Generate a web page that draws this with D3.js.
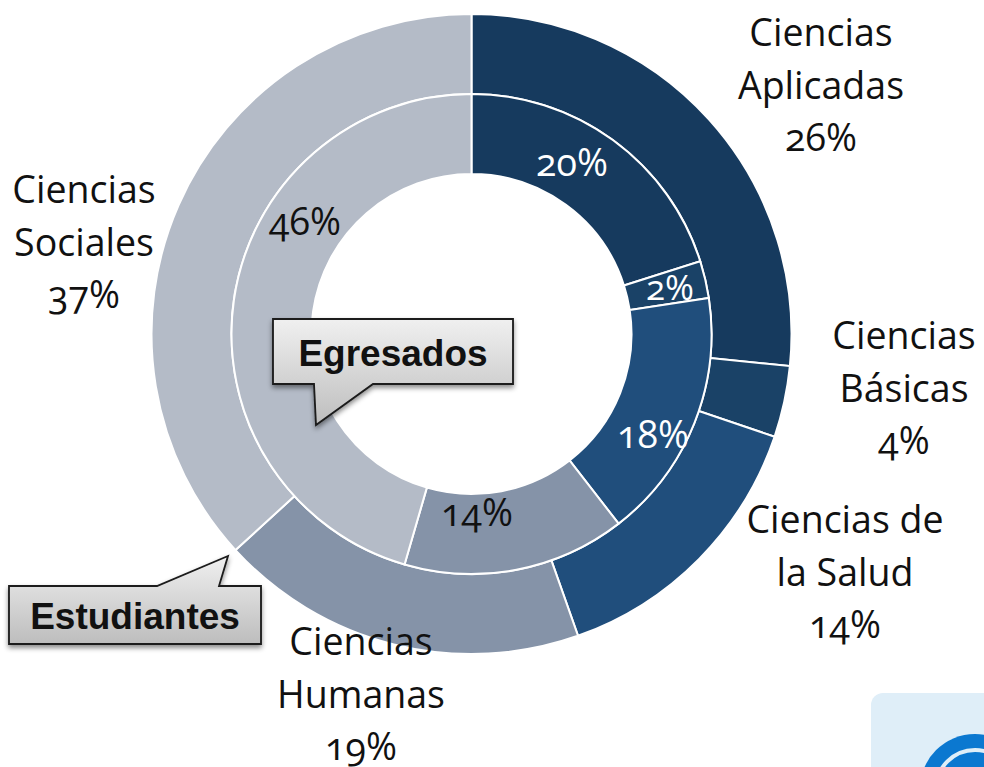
<!DOCTYPE html>
<html>
<head>
<meta charset="utf-8">
<script src="https://cdn.jsdelivr.net/npm/d3@7"></script>
<style>
  html, body { margin: 0; padding: 0; background: #fff; }
  svg { display: block; }
  text { font-family: "Open Sans", "Noto Sans", sans-serif; font-feature-settings: "onum" 1; }
</style>
</head>
<body>
<div id="chart"></div>
<script>
// chart data, clockwise from the top
var categories = ["Ciencias Aplicadas", "Ciencias Básicas", "Ciencias de la Salud", "Ciencias Humanas", "Ciencias Sociales"];
var estudiantes = [26.6, 3.6, 14.4, 18.6, 36.8];
var egresados = [20.1, 2.5, 16.9, 15.0, 45.5];
var estudiantesLabels = ["26%", "4%", "14%", "19%", "37%"];
var egresadosLabels = ["20%", "2%", "18%", "14%", "46%"];
var sliceColors = ["#163a5e", "#1a4267", "#204e7c", "#8593a8", "#b4bbc7"];

var width = 984, height = 767;
var cx = 471.5, cy = 334;

var svg = d3.select("#chart").append("svg")
    .attr("width", width)
    .attr("height", height);

var defs = svg.append("defs");

var grad = defs.append("linearGradient")
    .attr("id", "calloutFill")
    .attr("x1", 0).attr("y1", 0).attr("x2", 0).attr("y2", 1);
grad.append("stop").attr("offset", "0%").attr("stop-color", "#f0f0f0");
grad.append("stop").attr("offset", "100%").attr("stop-color", "#bdbdbd");

var shadow = defs.append("filter")
    .attr("id", "calloutShadow")
    .attr("x", "-10%").attr("y", "-10%").attr("width", "120%").attr("height", "130%");
shadow.append("feDropShadow")
    .attr("dx", 0).attr("dy", 3).attr("stdDeviation", 2.5)
    .attr("flood-color", "#000").attr("flood-opacity", 0.45);

var color = d3.scaleOrdinal().domain(categories).range(sliceColors);
var pie = d3.pie().sort(null);

function drawRing(values, innerR, outerR) {
  var arc = d3.arc().innerRadius(innerR).outerRadius(outerR);
  svg.append("g")
      .attr("transform", "translate(" + cx + "," + cy + ")")
    .selectAll("path")
    .data(pie(values))
    .enter().append("path")
      .attr("d", arc)
      .attr("fill", function(d, i) { return color(categories[i]); })
      .attr("stroke", "#fff")
      .attr("stroke-width", 2);
}

drawRing(estudiantes, 240, 320);
drawRing(egresados, 160, 240);

// labels of the outer ring, split in lines like the original
var outerLabelLayout = [
  {x: 821, y: 46, lines: ["Ciencias", "Aplicadas"]},
  {x: 904, y: 349, lines: ["Ciencias", "Básicas"]},
  {x: 845, y: 533, lines: ["Ciencias de", "la Salud"]},
  {x: 361, y: 655, lines: ["Ciencias", "Humanas"]},
  {x: 84, y: 203, lines: ["Ciencias", "Sociales"]}
];

outerLabelLayout.forEach(function(l, i) {
  var t = svg.append("text")
      .attr("text-anchor", "middle")
      .attr("fill", "#111")
      .style("font-size", "37.5px");
  l.lines.concat(estudiantesLabels[i]).forEach(function(s, j) {
    t.append("tspan")
        .attr("x", l.x)
        .attr("y", l.y + j * 52.5)
        .text(s);
  });
});

// labels of the inner ring
var innerLabelLayout = [
  {x: 572, y: 176, fill: "#fff"},
  {x: 670, y: 300, fill: "#fff"},
  {x: 653, y: 448, fill: "#fff"},
  {x: 477, y: 526, fill: "#111"},
  {x: 305, y: 235, fill: "#111"}
];

innerLabelLayout.forEach(function(l, i) {
  svg.append("text")
      .attr("x", l.x)
      .attr("y", l.y)
      .attr("text-anchor", "middle")
      .attr("fill", l.fill)
      .style("font-size", i == 1 ? "35px" : "37.5px")
      .text(egresadosLabels[i]);
});

// callouts
function callout(x0, y0, x1, y1, pointer, label, fontSize) {
  var p = d3.path();
  p.moveTo(x0, y0);
  if (pointer[1] < y0) {
    p.lineTo(pointer[0], y0);
    p.lineTo(pointer[2], pointer[1]);
    p.lineTo(pointer[3], y0);
    p.lineTo(x1, y0);
    p.lineTo(x1, y1);
    p.lineTo(x0, y1);
  } else {
    p.lineTo(x1, y0);
    p.lineTo(x1, y1);
    p.lineTo(pointer[3], y1);
    p.lineTo(pointer[2], pointer[1]);
    p.lineTo(pointer[0], y1);
    p.lineTo(x0, y1);
  }
  p.closePath();
  svg.append("path")
      .attr("d", p.toString())
      .attr("fill", "url(#calloutFill)")
      .attr("stroke", "#1a1a1a")
      .attr("stroke-width", 1.8)
      .attr("filter", "url(#calloutShadow)");
  svg.append("text")
      .attr("x", (x0 + x1) / 2)
      .attr("y", (y0 + y1) / 2 + fontSize * 0.36 + 1)
      .attr("text-anchor", "middle")
      .attr("fill", "#111")
      .style("font-family", "'Liberation Sans', Arial, sans-serif")
      .style("font-weight", "bold")
      .style("font-size", fontSize + "px")
      .text(label);
}

// pointer: [base x, tip y, tip x, other base x]
callout(273, 319, 513, 384, [314, 425, 316, 373], "Egresados", 37);
callout(9, 586, 261, 644, [157, 556, 228, 219], "Estudiantes", 37);

// piece of the logo cut by the page corner
svg.append("rect")
    .attr("x", 871).attr("y", 693)
    .attr("width", 140).attr("height", 100)
    .attr("rx", 12)
    .attr("fill", "#dfeef8");
svg.append("circle")
    .attr("cx", 975).attr("cy", 789).attr("r", 55)
    .attr("fill", "#0b78d0");
svg.append("circle")
    .attr("cx", 975).attr("cy", 789).attr("r", 39)
    .attr("fill", "none")
    .attr("stroke", "#dfeef8")
    .attr("stroke-width", 4);
</script>
</body>
</html>
